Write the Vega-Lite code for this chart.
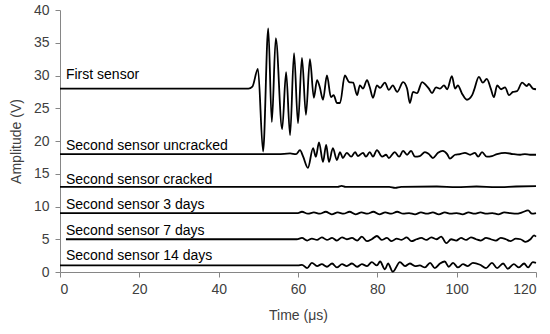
{
  "$schema": "https://vega.github.io/schema/vega-lite/v6.json",
  "width": 476,
  "height": 262,
  "autosize": "none",
  "padding": {"left": 60, "top": 10, "right": 14, "bottom": 62},
  "background": "white",
  "config": {
    "view": {"stroke": null},
    "font": "Liberation Sans",
    "axis": {
      "grid": false,
      "domainColor": "#868686",
      "tickColor": "#868686",
      "tickSize": 5,
      "labelOverlap": false,
      "labelFont": "Liberation Sans",
      "labelFontSize": 14,
      "labelColor": "#404040",
      "titleFont": "Liberation Sans",
      "titleFontSize": 14,
      "titleFontWeight": "normal",
      "titleColor": "#404040"
    }
  },
  "datasets": {
    "waves": [
      {"s": "First sensor", "t": 0, "v": 28}, {"s": "First sensor", "t": 47.5, "v": 28}, {"s": "First sensor", "t": 48.5, "v": 28.3},
      {"s": "First sensor", "t": 49.9, "v": 31.0}, {"s": "First sensor", "t": 51.2, "v": 18.4}, {"s": "First sensor", "t": 52.5, "v": 37.2},
      {"s": "First sensor", "t": 53.4, "v": 22.9}, {"s": "First sensor", "t": 54.4, "v": 35.7}, {"s": "First sensor", "t": 56, "v": 21.8},
      {"s": "First sensor", "t": 57, "v": 30.5}, {"s": "First sensor", "t": 58, "v": 20.9}, {"s": "First sensor", "t": 59, "v": 33.4},
      {"s": "First sensor", "t": 60, "v": 22.7}, {"s": "First sensor", "t": 61, "v": 32.7}, {"s": "First sensor", "t": 62, "v": 24},
      {"s": "First sensor", "t": 63, "v": 32.5}, {"s": "First sensor", "t": 64, "v": 26.6}, {"s": "First sensor", "t": 64.8, "v": 29.3},
      {"s": "First sensor", "t": 65.5, "v": 28.2}, {"s": "First sensor", "t": 66.3, "v": 26.3}, {"s": "First sensor", "t": 67.3, "v": 30},
      {"s": "First sensor", "t": 68.3, "v": 26.7}, {"s": "First sensor", "t": 69, "v": 27}, {"s": "First sensor", "t": 69.8, "v": 25.8},
      {"s": "First sensor", "t": 70.6, "v": 25.8}, {"s": "First sensor", "t": 71.8, "v": 30}, {"s": "First sensor", "t": 72.9, "v": 29},
      {"s": "First sensor", "t": 73.9, "v": 28.9}, {"s": "First sensor", "t": 74.9, "v": 27}, {"s": "First sensor", "t": 75.6, "v": 28.5},
      {"s": "First sensor", "t": 76.4, "v": 28}, {"s": "First sensor", "t": 77.4, "v": 29.3}, {"s": "First sensor", "t": 78.1, "v": 28.2},
      {"s": "First sensor", "t": 78.9, "v": 26.6}, {"s": "First sensor", "t": 79.9, "v": 28.5}, {"s": "First sensor", "t": 80.7, "v": 28.1},
      {"s": "First sensor", "t": 81.9, "v": 28.9}, {"s": "First sensor", "t": 82.9, "v": 27.8}, {"s": "First sensor", "t": 83.9, "v": 28.5},
      {"s": "First sensor", "t": 85, "v": 27.5}, {"s": "First sensor", "t": 86.5, "v": 29}, {"s": "First sensor", "t": 87.5, "v": 28},
      {"s": "First sensor", "t": 88.2, "v": 25.8}, {"s": "First sensor", "t": 89, "v": 27.5}, {"s": "First sensor", "t": 90, "v": 27.3},
      {"s": "First sensor", "t": 91.3, "v": 29}, {"s": "First sensor", "t": 92.3, "v": 28.5}, {"s": "First sensor", "t": 93, "v": 28},
      {"s": "First sensor", "t": 93.8, "v": 27.3}, {"s": "First sensor", "t": 94.8, "v": 28.2}, {"s": "First sensor", "t": 95.8, "v": 28},
      {"s": "First sensor", "t": 96.8, "v": 28.5}, {"s": "First sensor", "t": 97.6, "v": 27.9}, {"s": "First sensor", "t": 98.8, "v": 29.9},
      {"s": "First sensor", "t": 99.6, "v": 28}, {"s": "First sensor", "t": 100.3, "v": 28.5}, {"s": "First sensor", "t": 101.3, "v": 27.3},
      {"s": "First sensor", "t": 102.6, "v": 26.3}, {"s": "First sensor", "t": 103.9, "v": 27}, {"s": "First sensor", "t": 104.4, "v": 27.8},
      {"s": "First sensor", "t": 105.6, "v": 29.8}, {"s": "First sensor", "t": 106.6, "v": 28.9}, {"s": "First sensor", "t": 107.6, "v": 29.5},
      {"s": "First sensor", "t": 108.6, "v": 28}, {"s": "First sensor", "t": 109.4, "v": 26.7}, {"s": "First sensor", "t": 110.2, "v": 28.5},
      {"s": "First sensor", "t": 111.2, "v": 27.9}, {"s": "First sensor", "t": 112.2, "v": 28.2}, {"s": "First sensor", "t": 113.2, "v": 27},
      {"s": "First sensor", "t": 114.2, "v": 27.5}, {"s": "First sensor", "t": 115.2, "v": 27.6}, {"s": "First sensor", "t": 116.5, "v": 28.9},
      {"s": "First sensor", "t": 117.7, "v": 28.4}, {"s": "First sensor", "t": 118.2, "v": 28.7}, {"s": "First sensor", "t": 119.2, "v": 28},
      {"s": "First sensor", "t": 120, "v": 27.9},

      {"s": "Uncracked", "t": 0, "v": 18}, {"s": "Uncracked", "t": 55, "v": 18}, {"s": "Uncracked", "t": 58, "v": 18.1}, {"s": "Uncracked", "t": 59.5, "v": 18},
      {"s": "Uncracked", "t": 60.5, "v": 18.6}, {"s": "Uncracked", "t": 61.3, "v": 17.6}, {"s": "Uncracked", "t": 62.5, "v": 15.9},
      {"s": "Uncracked", "t": 63.8, "v": 18.9}, {"s": "Uncracked", "t": 64.5, "v": 17.6}, {"s": "Uncracked", "t": 65.3, "v": 19.8},
      {"s": "Uncracked", "t": 66.3, "v": 16.8}, {"s": "Uncracked", "t": 67.1, "v": 19.4}, {"s": "Uncracked", "t": 67.8, "v": 16.8},
      {"s": "Uncracked", "t": 68.8, "v": 18.9}, {"s": "Uncracked", "t": 69.8, "v": 17.1}, {"s": "Uncracked", "t": 70.6, "v": 18.3},
      {"s": "Uncracked", "t": 71.3, "v": 17.4}, {"s": "Uncracked", "t": 72.3, "v": 18.2}, {"s": "Uncracked", "t": 73.4, "v": 17.6},
      {"s": "Uncracked", "t": 74.4, "v": 18.3}, {"s": "Uncracked", "t": 75.1, "v": 17.7}, {"s": "Uncracked", "t": 76.4, "v": 18.2},
      {"s": "Uncracked", "t": 77.1, "v": 17.6}, {"s": "Uncracked", "t": 78.1, "v": 18.3}, {"s": "Uncracked", "t": 78.9, "v": 17.6},
      {"s": "Uncracked", "t": 79.9, "v": 18.6}, {"s": "Uncracked", "t": 81.2, "v": 17.6}, {"s": "Uncracked", "t": 82.2, "v": 17.9},
      {"s": "Uncracked", "t": 82.9, "v": 17.4}, {"s": "Uncracked", "t": 84.4, "v": 18.3}, {"s": "Uncracked", "t": 85.5, "v": 17.6},
      {"s": "Uncracked", "t": 86.5, "v": 18.5}, {"s": "Uncracked", "t": 87.5, "v": 17.9}, {"s": "Uncracked", "t": 88.5, "v": 18.5},
      {"s": "Uncracked", "t": 89.5, "v": 17.6}, {"s": "Uncracked", "t": 90.7, "v": 17.7}, {"s": "Uncracked", "t": 92, "v": 18.3},
      {"s": "Uncracked", "t": 93, "v": 18.0}, {"s": "Uncracked", "t": 94, "v": 17.4}, {"s": "Uncracked", "t": 95.3, "v": 18.2},
      {"s": "Uncracked", "t": 96.5, "v": 18.5}, {"s": "Uncracked", "t": 97.6, "v": 18.0}, {"s": "Uncracked", "t": 98.3, "v": 17.3},
      {"s": "Uncracked", "t": 99.6, "v": 17.9}, {"s": "Uncracked", "t": 100.8, "v": 18.0}, {"s": "Uncracked", "t": 102.1, "v": 18.2},
      {"s": "Uncracked", "t": 103.4, "v": 17.9}, {"s": "Uncracked", "t": 104.6, "v": 18.2}, {"s": "Uncracked", "t": 105.4, "v": 17.6},
      {"s": "Uncracked", "t": 106.4, "v": 18.3}, {"s": "Uncracked", "t": 107.6, "v": 17.6}, {"s": "Uncracked", "t": 108.9, "v": 17.7},
      {"s": "Uncracked", "t": 110.2, "v": 18.0}, {"s": "Uncracked", "t": 112.2, "v": 18.2}, {"s": "Uncracked", "t": 114.2, "v": 18.0},
      {"s": "Uncracked", "t": 116, "v": 17.9}, {"s": "Uncracked", "t": 117.2, "v": 18.0}, {"s": "Uncracked", "t": 118.5, "v": 17.9},
      {"s": "Uncracked", "t": 120, "v": 17.9},

      {"s": "Cracked", "t": 0, "v": 13}, {"s": "Cracked", "t": 70, "v": 13}, {"s": "Cracked", "t": 71, "v": 13.15}, {"s": "Cracked", "t": 72, "v": 13},
      {"s": "Cracked", "t": 83, "v": 13}, {"s": "Cracked", "t": 84.5, "v": 12.85}, {"s": "Cracked", "t": 86, "v": 13}, {"s": "Cracked", "t": 95, "v": 13.05},
      {"s": "Cracked", "t": 100, "v": 12.95}, {"s": "Cracked", "t": 105, "v": 13.05}, {"s": "Cracked", "t": 110, "v": 12.95}, {"s": "Cracked", "t": 115, "v": 13.05},
      {"s": "Cracked", "t": 120, "v": 13.1},

      {"s": "3 days", "t": 0, "v": 9}, {"s": "3 days", "t": 60, "v": 9}, {"s": "3 days", "t": 61, "v": 9.2}, {"s": "3 days", "t": 62.5, "v": 8.9},
      {"s": "3 days", "t": 64, "v": 9.1}, {"s": "3 days", "t": 65.5, "v": 8.9}, {"s": "3 days", "t": 67, "v": 9.2}, {"s": "3 days", "t": 68.5, "v": 8.8},
      {"s": "3 days", "t": 70, "v": 9.1}, {"s": "3 days", "t": 71.5, "v": 8.9}, {"s": "3 days", "t": 73, "v": 9.2}, {"s": "3 days", "t": 74.5, "v": 8.8},
      {"s": "3 days", "t": 76, "v": 9.1}, {"s": "3 days", "t": 77.5, "v": 8.9}, {"s": "3 days", "t": 79, "v": 9.2}, {"s": "3 days", "t": 80.5, "v": 8.8},
      {"s": "3 days", "t": 82, "v": 9.1}, {"s": "3 days", "t": 83.5, "v": 8.9}, {"s": "3 days", "t": 85, "v": 9.2}, {"s": "3 days", "t": 86.5, "v": 8.9},
      {"s": "3 days", "t": 88, "v": 9.0}, {"s": "3 days", "t": 89.5, "v": 8.8}, {"s": "3 days", "t": 91, "v": 9.1}, {"s": "3 days", "t": 92.5, "v": 8.9},
      {"s": "3 days", "t": 94, "v": 9.1}, {"s": "3 days", "t": 95.5, "v": 8.8}, {"s": "3 days", "t": 97, "v": 9.1}, {"s": "3 days", "t": 98.5, "v": 8.9},
      {"s": "3 days", "t": 100, "v": 9.0}, {"s": "3 days", "t": 101.5, "v": 8.8}, {"s": "3 days", "t": 103, "v": 9.1}, {"s": "3 days", "t": 104.5, "v": 8.9},
      {"s": "3 days", "t": 106, "v": 9.1}, {"s": "3 days", "t": 107.5, "v": 8.9}, {"s": "3 days", "t": 109, "v": 9.0}, {"s": "3 days", "t": 110.5, "v": 8.8},
      {"s": "3 days", "t": 112, "v": 9.1}, {"s": "3 days", "t": 113.5, "v": 9.0}, {"s": "3 days", "t": 115, "v": 8.9}, {"s": "3 days", "t": 116.5, "v": 9.1},
      {"s": "3 days", "t": 118, "v": 9.4}, {"s": "3 days", "t": 119, "v": 8.9}, {"s": "3 days", "t": 120, "v": 9.0},

      {"s": "7 days", "t": 1.5, "v": 5}, {"s": "7 days", "t": 59.7, "v": 5}, {"s": "7 days", "t": 61, "v": 5.2}, {"s": "7 days", "t": 62.3, "v": 4.8},
      {"s": "7 days", "t": 63.5, "v": 5.1}, {"s": "7 days", "t": 64.8, "v": 4.9}, {"s": "7 days", "t": 66, "v": 5.3}, {"s": "7 days", "t": 67.3, "v": 4.9},
      {"s": "7 days", "t": 68.6, "v": 5.2}, {"s": "7 days", "t": 69.8, "v": 4.8}, {"s": "7 days", "t": 71.1, "v": 5.3}, {"s": "7 days", "t": 72.3, "v": 5.0},
      {"s": "7 days", "t": 73.6, "v": 5.2}, {"s": "7 days", "t": 74.9, "v": 4.8}, {"s": "7 days", "t": 76.1, "v": 5.4}, {"s": "7 days", "t": 77.4, "v": 4.7},
      {"s": "7 days", "t": 78.6, "v": 5.0}, {"s": "7 days", "t": 79.9, "v": 5.5}, {"s": "7 days", "t": 81.1, "v": 4.9}, {"s": "7 days", "t": 82.4, "v": 5.2},
      {"s": "7 days", "t": 83.6, "v": 4.7}, {"s": "7 days", "t": 84.9, "v": 5.1}, {"s": "7 days", "t": 86.1, "v": 4.9}, {"s": "7 days", "t": 87.4, "v": 5.3},
      {"s": "7 days", "t": 88.6, "v": 4.7}, {"s": "7 days", "t": 89.9, "v": 5.0}, {"s": "7 days", "t": 91.1, "v": 5.2}, {"s": "7 days", "t": 92.4, "v": 4.9},
      {"s": "7 days", "t": 93.6, "v": 5.3}, {"s": "7 days", "t": 94.9, "v": 5.0}, {"s": "7 days", "t": 96.1, "v": 5.4}, {"s": "7 days", "t": 97.4, "v": 4.4},
      {"s": "7 days", "t": 98.6, "v": 5.0}, {"s": "7 days", "t": 99.9, "v": 4.8}, {"s": "7 days", "t": 101.1, "v": 5.2}, {"s": "7 days", "t": 102.4, "v": 4.9},
      {"s": "7 days", "t": 103.6, "v": 5.3}, {"s": "7 days", "t": 104.9, "v": 5.0}, {"s": "7 days", "t": 106.1, "v": 4.8}, {"s": "7 days", "t": 107.4, "v": 5.2},
      {"s": "7 days", "t": 108.6, "v": 5.0}, {"s": "7 days", "t": 109.9, "v": 4.8}, {"s": "7 days", "t": 111.1, "v": 5.2}, {"s": "7 days", "t": 112.4, "v": 5.0},
      {"s": "7 days", "t": 113.6, "v": 4.7}, {"s": "7 days", "t": 114.9, "v": 5.1}, {"s": "7 days", "t": 116.1, "v": 5.0}, {"s": "7 days", "t": 117.4, "v": 4.6},
      {"s": "7 days", "t": 118.6, "v": 5.0}, {"s": "7 days", "t": 119.5, "v": 5.6}, {"s": "7 days", "t": 120, "v": 5.4},

      {"s": "14 days", "t": 0, "v": 1}, {"s": "14 days", "t": 60, "v": 1}, {"s": "14 days", "t": 61, "v": 1.1}, {"s": "14 days", "t": 62.3, "v": 0.6},
      {"s": "14 days", "t": 63.5, "v": 1.4}, {"s": "14 days", "t": 64.8, "v": 0.9}, {"s": "14 days", "t": 66, "v": 1.2}, {"s": "14 days", "t": 67.3, "v": 0.8},
      {"s": "14 days", "t": 68.6, "v": 1.3}, {"s": "14 days", "t": 69.8, "v": 0.7}, {"s": "14 days", "t": 71.1, "v": 1.2}, {"s": "14 days", "t": 72.3, "v": 0.9},
      {"s": "14 days", "t": 73.6, "v": 1.3}, {"s": "14 days", "t": 74.9, "v": 0.8}, {"s": "14 days", "t": 76.1, "v": 1.2}, {"s": "14 days", "t": 77.4, "v": 0.9},
      {"s": "14 days", "t": 78.6, "v": 1.5}, {"s": "14 days", "t": 79.9, "v": 1.0}, {"s": "14 days", "t": 80.7, "v": 1.6}, {"s": "14 days", "t": 81.9, "v": 0.4},
      {"s": "14 days", "t": 82.7, "v": 1.3}, {"s": "14 days", "t": 83.9, "v": 0.05}, {"s": "14 days", "t": 85.7, "v": 1.5}, {"s": "14 days", "t": 87, "v": 0.9},
      {"s": "14 days", "t": 88.2, "v": 1.3}, {"s": "14 days", "t": 89.5, "v": 0.9}, {"s": "14 days", "t": 90.7, "v": 1.0}, {"s": "14 days", "t": 92, "v": 0.7},
      {"s": "14 days", "t": 93.3, "v": 1.4}, {"s": "14 days", "t": 94.5, "v": 0.6}, {"s": "14 days", "t": 95.8, "v": 1.3}, {"s": "14 days", "t": 97, "v": 1.6},
      {"s": "14 days", "t": 98, "v": 0.8}, {"s": "14 days", "t": 99.1, "v": 1.4}, {"s": "14 days", "t": 100.3, "v": 0.7}, {"s": "14 days", "t": 101.6, "v": 1.2},
      {"s": "14 days", "t": 102.8, "v": 0.9}, {"s": "14 days", "t": 104.1, "v": 1.4}, {"s": "14 days", "t": 105.9, "v": 1.1}, {"s": "14 days", "t": 107.4, "v": 0.6},
      {"s": "14 days", "t": 108.9, "v": 1.4}, {"s": "14 days", "t": 110.2, "v": 0.6}, {"s": "14 days", "t": 111.7, "v": 1.3}, {"s": "14 days", "t": 112.9, "v": 0.5},
      {"s": "14 days", "t": 114.4, "v": 1.2}, {"s": "14 days", "t": 115.7, "v": 0.7}, {"s": "14 days", "t": 117, "v": 1.3}, {"s": "14 days", "t": 118, "v": 0.7},
      {"s": "14 days", "t": 119.2, "v": 1.5}, {"s": "14 days", "t": 120, "v": 1.4}
    ],
    "labels": [
      {"label": "First sensor", "t": 1.5, "v": 30.1},
      {"label": "Second sensor uncracked", "t": 1.5, "v": 19.2},
      {"label": "Second sensor cracked", "t": 1.5, "v": 14.0},
      {"label": "Second sensor 3 days", "t": 1.5, "v": 10.2},
      {"label": "Second sensor 7 days", "t": 1.5, "v": 6.26},
      {"label": "Second sensor 14 days", "t": 1.5, "v": 2.44}
    ]
  },
  "encoding": {
    "x": {"field": "t", "type": "quantitative", "scale": {"domain": [0, 120]},
          "axis": {"values": [0, 20, 40, 60, 80, 100, 120], "title": "Time (μs)", "labelPadding": 5, "titlePadding": 12}},
    "y": {"field": "v", "type": "quantitative", "scale": {"domain": [0, 40]},
          "axis": {"values": [0, 5, 10, 15, 20, 25, 30, 35, 40], "title": "Amplitude (V)", "labelPadding": 6, "titlePadding": 10}}
  },
  "layer": [
    {
      "data": {"name": "waves"},
      "mark": {"type": "line", "color": "black", "strokeWidth": 1.8, "interpolate": "monotone"},
      "encoding": {
        "detail": {"field": "s"}
      }
    },
    {
      "data": {"name": "labels"},
      "mark": {"type": "text", "align": "left", "baseline": "middle", "fontSize": 14, "font": "Liberation Sans", "color": "black"},
      "encoding": {
        "text": {"field": "label"}
      }
    }
  ]
}
